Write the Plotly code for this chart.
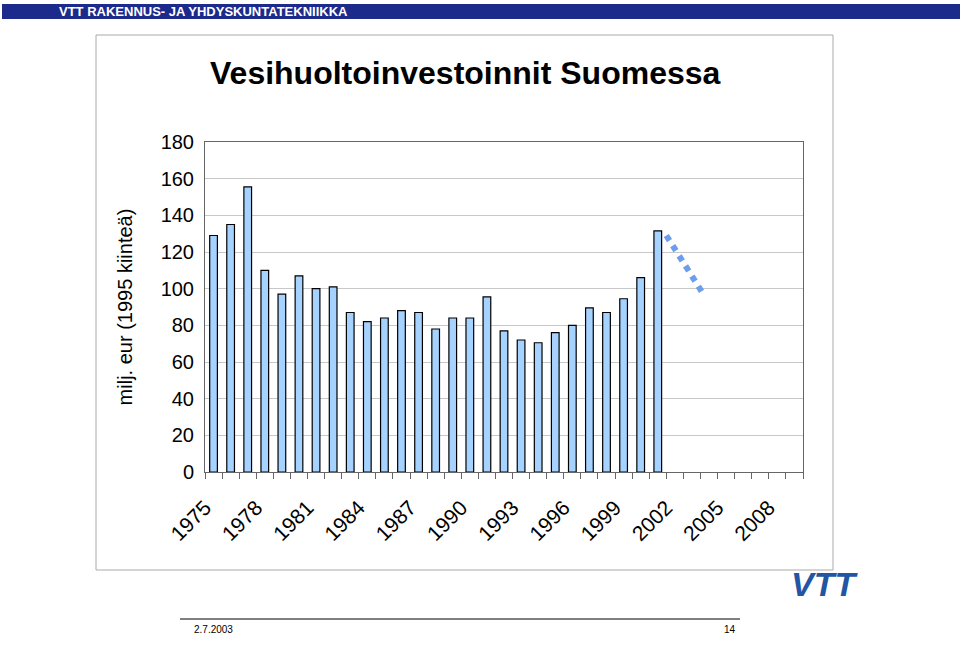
import plotly.graph_objects as go

years = list(range(1975, 2002))
values = [129, 135, 155.5, 110, 97, 107, 100, 101, 87, 82, 84, 88, 87, 78, 84, 84, 95.5, 77, 72, 70.5, 76, 80, 89.5, 87, 94.5, 106, 131.5]
fc_x = [2001.5, 2003.6]
fc_y = [129, 98]
tick_years = list(range(1975, 2009, 3))

W, H = 960, 648
def px(x): return x / W
def py(y): return 1 - y / H

fig = go.Figure()
fig.add_trace(go.Bar(x=years, y=values, width=0.45,
                     marker=dict(color="#a6d2ff", line=dict(color="black", width=1.2))))
fig.add_trace(go.Scatter(x=fc_x, y=fc_y, mode="lines",
                         line=dict(color="#6d9eeb", width=6, dash="dot")))

fig.update_layout(
    autosize=True, margin=dict(l=0, r=0, t=0, b=0, pad=0),
    paper_bgcolor="white", plot_bgcolor="white", showlegend=False,
    font=dict(family="Liberation Sans, Arial", color="black"),
    xaxis=dict(domain=[px(205), px(803)], range=[1974.5, 2009.5],
               tickvals=[t - 0.5 for t in tick_years], ticktext=[str(t) for t in tick_years],
               tickangle=-45, tickfont=dict(size=21), showgrid=False,
               showline=True, linecolor="#666", mirror=True, automargin=False,
               ticks="outside", ticklen=6, tickcolor="#666", ticklabelstandoff=8,
               minor=dict(tick0=1974.5, dtick=1, ticks="outside", ticklen=6, tickcolor="#666")),
    yaxis=dict(domain=[py(472), py(142)], range=[0, 180], dtick=20, automargin=False,
               tickfont=dict(size=20), showgrid=True, gridcolor="#c8c8c8",
               showline=True, linecolor="#666", mirror=True, ticks="", zeroline=False,
               ticklabelstandoff=6,
               title=dict(text="milj. eur (1995 kiinteä)", font=dict(size=20), standoff=22)),
    shapes=[
        dict(type="rect", xref="paper", yref="paper", x0=px(96), x1=px(833), y0=py(570), y1=py(35),
             line=dict(color="#aaa", width=1)),
        dict(type="rect", xref="paper", yref="paper", x0=px(2), x1=1, y0=py(19), y1=py(4),
             line=dict(width=0), fillcolor="#1c2a8c", layer="below"),
        dict(type="line", xref="paper", yref="paper", x0=px(180), x1=px(740), y0=py(619), y1=py(619),
             line=dict(color="black", width=1)),
    ],
    annotations=[
        dict(text="<b>Vesihuoltoinvestoinnit Suomessa</b>", x=px(465), y=py(73), xref="paper", yref="paper",
             yanchor="middle", showarrow=False, font=dict(size=32, family="Liberation Sans Narrow, Liberation Sans")),
        dict(text="<b>VTT RAKENNUS- JA YHDYSKUNTATEKNIIKKA</b>", x=px(57), y=py(11.5), xref="paper", yref="paper",
             xanchor="left", yanchor="middle", showarrow=False, font=dict(size=13, color="white")),
        dict(text="2.7.2003", x=px(192), y=py(622), xref="paper", yref="paper", xanchor="left", yanchor="top",
             showarrow=False, font=dict(size=10)),
        dict(text="14", x=px(722), y=py(622), xref="paper", yref="paper", xanchor="left", yanchor="top",
             showarrow=False, font=dict(size=10)),
        dict(text="<b><i>VTT</i></b>", x=px(860), y=py(605), xref="paper", yref="paper",
             showarrow=False, font=dict(size=34, color="#2255a4")),
    ],
)
fig.write_html("out.html", default_width="100vw", default_height="100vh",
               config={"displayModeBar": False},
               post_script="document.body.style.margin='0';document.body.style.overflow='hidden';")
